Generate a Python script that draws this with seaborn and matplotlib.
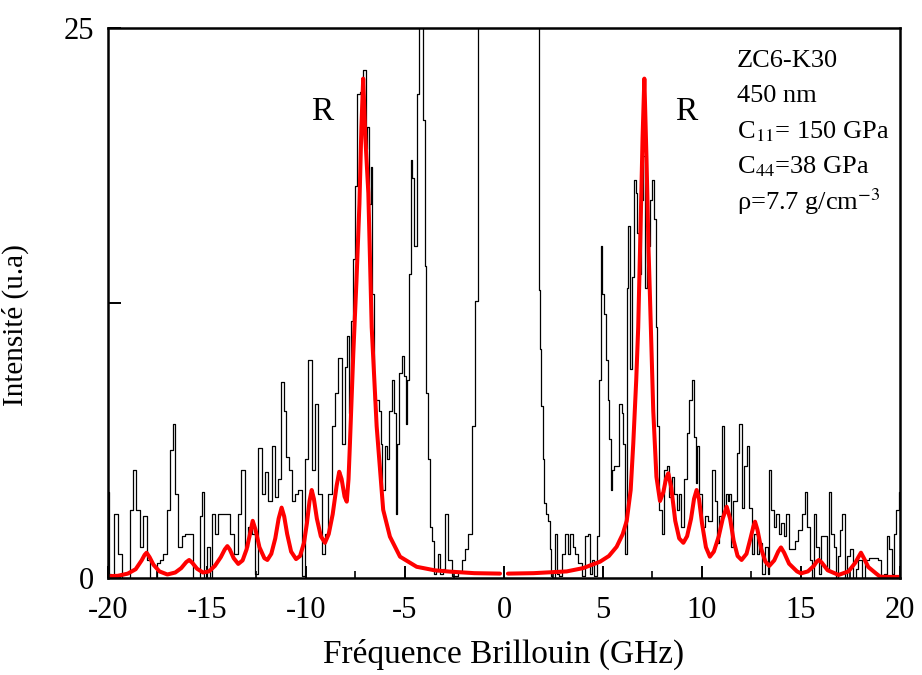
import matplotlib
matplotlib.use("Agg")
import matplotlib.pyplot as plt
from matplotlib.ticker import MultipleLocator
import seaborn as sns
import pandas as pd

# measured spectrum (black) - values above 25 are off scale
black_x = [-20.0, -19.9, -19.81, -19.56, -19.39, -19.22, -18.97, -18.8, -18.67, -18.47,
           -18.3, -18.13, -17.96, -17.79, -17.63, -17.46, -17.29, -17.12, -16.95, -16.78,
           -16.67, -16.53, -16.36, -16.19, -16.03, -15.77, -15.6, -15.44, -15.3, -15.18,
           -15.1, -14.93, -14.8, -14.68, -14.51, -14.34, -14.09, -13.92, -13.75, -13.5,
           -13.33, -13.2, -13.0, -12.83, -12.66, -12.49, -12.32, -12.15, -11.98, -11.82,
           -11.65, -11.48, -11.31, -11.18, -11.06, -10.92, -10.81, -10.64, -10.47, -10.3,
           -10.13, -9.97, -9.8, -9.63, -9.46, -9.29, -9.13, -8.96, -8.79, -8.62,
           -8.45, -8.28, -8.11, -7.95, -7.86, -7.78, -7.69, -7.58, -7.48, -7.36,
           -7.19, -7.02, -6.94, -6.85, -6.77, -6.68, -6.6, -6.52, -6.4, -6.26,
           -6.18, -6.09, -5.93, -5.84, -5.76, -5.59, -5.5, -5.42, -5.34, -5.25,
           -5.09, -5.0, -4.92, -4.83, -4.75, -4.66, -4.58, -4.5, -4.41, -4.33,
           -4.24, -4.14, -4.04, -3.96, -3.87, -3.79, -3.7, -3.57, -3.49, -3.4,
           -3.27, -3.15, -3.01, -2.9, -2.73, -2.56, -2.39, -2.22, -2.05, -1.89,
           -1.72, -1.55, -1.38, -1.26, 0.0, 1.73, 1.78, 1.85, 1.94, 1.99,
           2.07, 2.15, 2.27, 2.36, 2.41, 2.49, 2.63, 2.74, 2.83, 3.0,
           3.16, 3.3, 3.42, 3.54, 3.67, 3.84, 4.01, 4.21, 4.31, 4.43,
           4.51, 4.59, 4.76, 4.85, 4.93, 5.02, 5.1, 5.19, 5.27, 5.35,
           5.44, 5.52, 5.61, 5.77, 5.89, 5.99, 6.08, 6.16, 6.23, 6.31,
           6.4, 6.5, 6.62, 6.7, 6.78, 6.87, 7.0, 7.09, 7.17, 7.26,
           7.34, 7.46, 7.54, 7.63, 7.71, 7.79, 7.88, 8.05, 8.13, 8.3,
           8.38, 8.55, 8.64, 8.81, 8.89, 9.02, 9.14, 9.31, 9.43, 9.53,
           9.65, 9.73, 9.81, 9.9, 10.07, 10.24, 10.4, 10.57, 10.71, 10.82,
           10.94, 11.08, 11.16, 11.25, 11.33, 11.41, 11.5, 11.67, 11.84, 11.95,
           12.05, 12.17, 12.34, 12.42, 12.59, 12.68, 12.85, 12.93, 13.1, 13.27,
           13.35, 13.43, 13.57, 13.69, 13.8, 13.94, 14.07, 14.19, 14.31, 14.44,
           14.61, 14.78, 14.95, 15.12, 15.25, 15.37, 15.54, 15.62, 15.71, 15.83,
           15.96, 16.1, 16.21, 16.38, 16.47, 16.6, 16.72, 16.8, 16.94, 17.05,
           17.14, 17.27, 17.39, 17.56, 17.73, 17.81, 17.98, 18.15, 18.32, 18.57,
           18.82, 18.99, 19.12, 19.24, 19.41, 19.53, 19.63, 19.75, 19.87, 20.0]
black_y = [3.9, 0.2, 0.0, 2.9, 1.1, 0.0, 0.0, 3.1, 4.9, 3.1,
           1.4, 2.8, 0.8, 0.0, 0.0, 0.7, 0.8, 1.1, 3.1, 5.8,
           7.0, 3.8, 1.4, 1.9, 2.0, 2.0, 0.0, 0.0, 2.8, 3.9,
           0.0, 1.4, 0.0, 2.9, 2.0, 2.9, 2.9, 2.9, 2.0, 1.1,
           2.9, 4.9, 1.4, 2.3, 2.0, 0.2, 5.9, 3.8, 4.8, 3.5,
           6.0, 3.7, 4.5, 8.9, 7.6, 5.5, 4.9, 3.5, 3.8, 4.0,
           0.1, 5.4, 9.9, 4.9, 7.9, 3.8, 1.1, 2.0, 3.8, 6.9,
           8.4, 10.0, 6.1, 9.6, 11.0, 7.5, 11.7, 14.5, 17.8, 22.0,
           22.1, 23.1, 19.5, 20.5, 17.0, 18.7, 12.9, 8.1, 8.1, 7.6,
           6.1, 4.0, 6.0, 5.4, 7.6, 9.0, 7.5, 2.9, 6.1, 9.3,
           10.1, 9.2, 7.0, 9.0, 13.8, 19.0, 18.2, 15.1, 15.1, 22.0,
           40.0, 40.0, 20.8, 14.2, 8.4, 5.4, 2.3, 1.7, 0.2, 0.3,
           1.1, 0.2, 0.4, 2.9, 0.8, 0.1, 0.1, 0.3, 0.8, 1.3,
           2.0, 6.9, 12.6, 40.0, 40.0, 40.0, 13.1, 10.4, 7.8, 5.4,
           3.4, 2.9, 2.6, 1.3, 0.1, 0.0, 2.0, 0.2, 0.1, 1.1,
           2.0, 1.1, 2.0, 1.4, 1.1, 0.7, 0.1, 1.9, 2.0, 0.2,
           0.8, 0.1, 1.9, 9.0, 15.1, 12.9, 12.0, 9.9, 8.1, 6.3,
           4.0, 4.9, 5.1, 5.1, 7.9, 7.5, 6.1, 1.1, 13.2, 16.0,
           9.5, 13.7, 18.1, 17.5, 15.7, 13.8, 17.2, 19.2, 13.2, 15.7,
           15.1, 17.2, 18.1, 16.3, 11.4, 6.9, 3.1, 2.0, 4.9, 5.1,
           3.7, 4.6, 3.8, 3.1, 3.8, 2.3, 4.5, 6.6, 8.1, 9.0,
           6.4, 4.3, 6.0, 3.8, 2.3, 2.8, 2.6, 4.9, 3.5, 1.6,
           2.8, 6.9, 3.2, 3.8, 3.5, 3.8, 1.4, 3.5, 5.7, 7.0,
           3.2, 5.1, 6.0, 3.2, 1.1, 2.0, 1.1, 1.6, 0.2, 1.4,
           0.2, 4.9, 3.1, 2.3, 2.9, 2.0, 2.5, 1.9, 2.9, 1.3,
           1.3, 1.7, 2.2, 2.9, 3.9, 2.3, 0.8, 0.0, 2.9, 1.4,
           0.2, 1.9, 1.9, 0.4, 3.9, 2.0, 1.4, 0.0, 1.0, 2.2,
           2.9, 0.0, 1.0, 1.3, 0.0, 0.4, 0.8, 0.0, 0.8, 0.9,
           0.9, 0.8, 0.0, 0.2, 1.9, 1.3, 0.2, 2.0, 3.1, 3.9]

# fitted spectrum (red), negative and positive branches
red_left_x = [-20.0, -19.5, -19.0, -18.6, -18.3, -18.15, -18.05, -17.9, -17.7, -17.4,
              -17.0, -16.6, -16.3, -16.05, -15.9, -15.75, -15.5, -15.2, -14.9, -14.6,
              -14.3, -14.1, -13.97, -13.85, -13.65, -13.42, -13.2, -13.0, -12.85, -12.69,
              -12.55, -12.35, -12.1, -11.95, -11.75, -11.55, -11.38, -11.23, -11.1, -10.95,
              -10.75, -10.5, -10.3, -10.1, -9.95, -9.82, -9.71, -9.6, -9.45, -9.25,
              -9.04, -8.85, -8.65, -8.45, -8.32, -8.2, -8.05, -7.94, -7.85, -7.78,
              -7.61, -7.45, -7.3, -7.2, -7.11, -7.0, -6.85, -6.68, -6.43, -6.1,
              -5.76, -5.25, -4.41, -3.5, -2.73, -1.5, -0.2]
red_left_y = [0.08, 0.1, 0.2, 0.4, 0.8, 1.05, 1.15, 0.95, 0.6, 0.3,
              0.16, 0.25, 0.45, 0.72, 0.82, 0.7, 0.42, 0.25, 0.3, 0.55,
              0.95, 1.3, 1.45, 1.3, 0.9, 0.64, 0.8, 1.3, 1.9, 2.6,
              2.2, 1.4, 0.9, 0.82, 1.1, 1.8, 2.7, 3.2, 2.8, 2.0,
              1.2, 0.86, 1.0, 1.6, 2.5, 3.5, 4.0, 3.6, 2.7, 1.9,
              1.6, 2.0, 2.9, 4.2, 4.83, 4.5, 3.7, 3.47, 4.5, 6.1,
              10.2, 13.5, 17.0, 20.5, 22.7, 20.0, 17.5, 11.4, 6.9, 3.1,
              1.88, 0.97, 0.51, 0.35, 0.29, 0.22, 0.2]
red_right_x = [0.2, 1.5, 3.17, 4.0, 4.85, 5.3, 5.69, 6.0, 6.2, 6.4,
               6.53, 6.68, 6.78, 6.9, 7.0, 7.09, 7.2, 7.3, 7.37, 7.54,
               7.7, 7.88, 8.05, 8.18, 8.3, 8.45, 8.65, 8.85, 9.06, 9.25,
               9.45, 9.6, 9.73, 9.85, 10.0, 10.2, 10.4, 10.6, 10.85, 11.05,
               11.25, 11.42, 11.6, 11.8, 12.0, 12.25, 12.45, 12.6, 12.68, 12.8,
               13.0, 13.2, 13.4, 13.65, 13.85, 13.99, 14.15, 14.4, 14.8, 15.0,
               15.35, 15.65, 15.8, 15.91, 16.05, 16.35, 16.9, 17.4, 17.75, 17.9,
               18.03, 18.18, 18.4, 18.8, 19.0, 19.5, 20.0]
red_right_y = [0.2, 0.22, 0.3, 0.45, 0.74, 1.0, 1.42, 2.0, 2.6, 4.0,
               6.1, 9.0, 11.4, 16.0, 20.0, 22.7, 19.0, 15.0, 12.9, 7.6,
               4.6, 3.5, 3.9, 4.5, 4.76, 4.1, 2.6, 1.8, 1.6, 1.9,
               2.7, 3.6, 4.0, 3.6, 2.5, 1.4, 0.97, 1.2, 1.9, 2.7,
               3.24, 2.7, 1.7, 1.0, 0.82, 1.1, 1.8, 2.35, 2.56, 2.2,
               1.3, 0.75, 0.55, 0.8, 1.2, 1.39, 1.15, 0.65, 0.3, 0.21,
               0.3, 0.55, 0.75, 0.82, 0.7, 0.35, 0.14, 0.3, 0.7, 0.95,
               1.15, 0.9, 0.5, 0.2, 0.06, 0.05, 0.05]

info_lines = ["ZC6-K30", "450 nm", r"C$_{11}$= 150 GPa", r"C$_{44}$=38 GPa",
              r"ρ=7.7 g/cm$^{-3}$"]

sns.set_style("ticks")
plt.rcParams["font.family"] = ["Liberation Serif", "DejaVu Serif"]
plt.rcParams["mathtext.fontset"] = "stix"
plt.rcParams["axes.unicode_minus"] = False
for k in ["text.color", "axes.labelcolor", "xtick.color", "ytick.color"]:
    plt.rcParams[k] = "black"

black = pd.DataFrame({"f": black_x, "I": black_y})
red_l = pd.DataFrame({"f": red_left_x, "I": red_left_y})
red_r = pd.DataFrame({"f": red_right_x, "I": red_right_y})

fig = plt.figure(figsize=(9.22, 6.75), dpi=100)
ax = fig.add_axes([0.1171, 0.1437, 0.859, 0.8148])

sns.lineplot(data=black, x="f", y="I", ax=ax, color="black", lw=0.9,
             estimator=None, sort=False, drawstyle="steps-mid")
sns.lineplot(data=red_l, x="f", y="I", ax=ax, color="#ff0000", lw=2.9,
             estimator=None, sort=False)
sns.lineplot(data=red_r, x="f", y="I", ax=ax, color="#ff0000", lw=2.9,
             estimator=None, sort=False)

ax.set_xlim(-20, 20)
ax.set_ylim(0, 25)
ax.set_xticks(range(-20, 21, 5))
ax.xaxis.set_minor_locator(MultipleLocator(2.5))
ax.set_yticks([0, 12.5, 25])
ax.set_yticklabels(["0", "", "25"])
ax.tick_params(which="major", direction="in", length=9, width=1.4,
               labelsize=22, top=False, right=False)
ax.tick_params(axis="x", which="major", pad=13)
ax.tick_params(axis="y", which="major", pad=10)
ax.tick_params(which="minor", direction="in", length=5, width=1.2,
               top=False, right=False)
for s in ax.spines.values():
    s.set_linewidth(1.8)
    s.set_color("black")

ax.set_xlabel("Fréquence Brillouin (GHz)", fontsize=24, labelpad=10)
ax.set_ylabel("Intensité (u.a)", fontsize=21)
ax.yaxis.set_label_coords(-0.1, 0.46)

ax.text(-9.2, 21.2, "R", fontsize=24, ha="center", va="center")
ax.text(9.2, 21.2, "R", fontsize=24, ha="center", va="center")
for i, t in enumerate(info_lines):
    ax.text(11.75, 23.5 - 1.6 * i, t, fontsize=19, ha="left", va="center")

fig.savefig("out.png", dpi=100)
